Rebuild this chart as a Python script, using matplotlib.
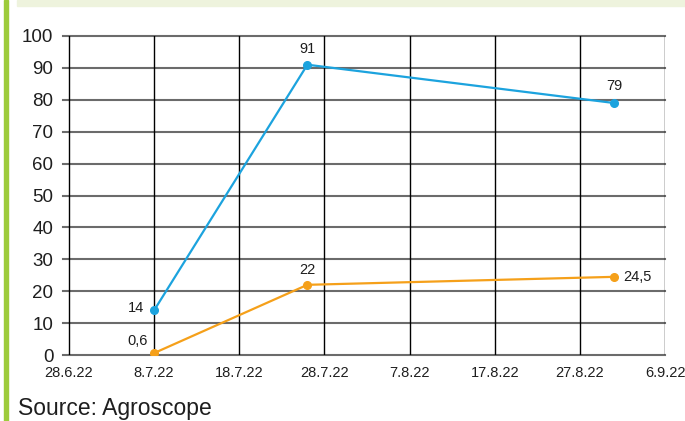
import matplotlib
matplotlib.use("Agg")
import matplotlib.pyplot as plt
from matplotlib.patches import Rectangle
from datetime import datetime, timedelta

plt.rcParams["font.family"] = ["Liberation Sans", "DejaVu Sans"]

# data
tick_dates = ["28.6.22", "8.7.22", "18.7.22", "28.7.22", "7.8.22", "17.8.22", "27.8.22", "6.9.22"]
obs_dates = ["8.7.22", "26.7.22", "31.8.22"]
blue_vals = [14, 91, 79]
orange_vals = [0.6, 22, 24.5]
blue_labels = ["14", "91", "79"]
orange_labels = ["0,6", "22", "24,5"]
y_ticks = [0, 10, 20, 30, 40, 50, 60, 70, 80, 90, 100]

BLUE = "#1ca3de"
ORANGE = "#f5a01a"
TEXT = "#1e1e1e"


def to_date(s):
    d, m, y = s.split(".")
    return datetime(2000 + int(y), int(m), int(d))


ticks = [to_date(s) for s in tick_dates]
xs = [to_date(s) for s in obs_dates]

fig = plt.figure(figsize=(6.85, 4.21), dpi=100)

# decorations: green bar on the left, pale band on top
fig.patches.append(Rectangle((4 / 685, 0), 4 / 685, 1, transform=fig.transFigure,
                             color="#9dcb3b", zorder=0))
fig.patches.append(Rectangle((17 / 685, 1 - 6 / 421), 1, 6 / 421, transform=fig.transFigure,
                             color="#eef3dd", zorder=0))

ax = fig.add_axes([63 / 685, 66 / 421, 602 / 685, 319 / 421])
x0 = ticks[0] - timedelta(days=0.7)
ax.set_xlim(x0, ticks[-1])
ax.set_ylim(0, 100)

for sp in ax.spines.values():
    sp.set_visible(False)

# horizontal grid (grey), vertical grid (black)
for y in y_ticks:
    ax.plot([x0, ticks[-1]], [y, y], color="#6b6b6b", lw=1.5, zorder=1, clip_on=False)
for t in ticks:
    ax.plot([t, t], [0, 100], color="black", lw=1.0, zorder=1)

ax.plot(xs, blue_vals, color=BLUE, lw=1.6, marker="o", ms=5.5, zorder=3)
ax.plot(xs, orange_vals, color=ORANGE, lw=1.6, marker="o", ms=5.5, zorder=3)

# value labels
lab_kw = dict(fontsize=10.5, color=TEXT, textcoords="offset points")
ax.annotate(blue_labels[0], (xs[0], blue_vals[0]), xytext=(-13, 2), ha="center", va="center", **lab_kw)
ax.annotate(blue_labels[1], (xs[1], blue_vals[1]), xytext=(0, 11), ha="center", va="center", **lab_kw)
ax.annotate(blue_labels[2], (xs[2], blue_vals[2]), xytext=(0, 12), ha="center", va="center", **lab_kw)
ax.annotate(orange_labels[0], (xs[0], orange_vals[0]), xytext=(-12, 9), ha="center", va="center", **lab_kw)
ax.annotate(orange_labels[1], (xs[1], orange_vals[1]), xytext=(0, 11), ha="center", va="center", **lab_kw)
ax.annotate(orange_labels[2], (xs[2], orange_vals[2]), xytext=(7, 0), ha="left", va="center", **lab_kw)

ax.set_yticks(y_ticks)
ax.set_yticklabels([str(v) for v in y_ticks], fontsize=13.5, color=TEXT)
ax.set_xticks(ticks)
ax.set_xticklabels(tick_dates, fontsize=10.5, color=TEXT)
ax.tick_params(axis="both", length=0)
ax.tick_params(axis="y", pad=7)
ax.tick_params(axis="x", pad=8)

fig.text(18 / 685, 1 - 409 / 421, "Source: Agroscope", fontsize=16.5, color=TEXT,
         ha="left", va="center")

fig.savefig("out.png", dpi=100)
